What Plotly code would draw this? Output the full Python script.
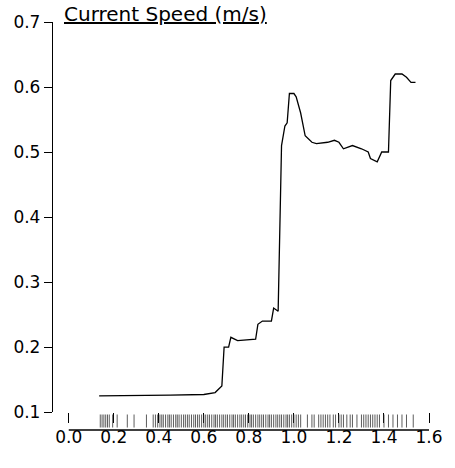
import plotly.graph_objects as go

pd_x = [0.135, 0.3, 0.45, 0.6, 0.65, 0.68, 0.69, 0.71, 0.72, 0.75, 0.83, 0.84, 0.86, 0.9, 0.91, 0.93, 0.945,
        0.96, 0.97, 0.98, 1.0, 1.01, 1.03, 1.05, 1.08, 1.1, 1.15, 1.18, 1.2, 1.22, 1.26, 1.3, 1.33, 1.34,
        1.37, 1.39, 1.42, 1.43, 1.45, 1.48, 1.5, 1.52, 1.54]
pd_y = [0.125, 0.125, 0.126, 0.127, 0.13, 0.14, 0.2, 0.2, 0.215, 0.21, 0.212, 0.235, 0.24, 0.24, 0.26, 0.255, 0.51,
        0.54, 0.545, 0.59, 0.59, 0.585, 0.56, 0.525, 0.515, 0.513, 0.515, 0.518, 0.515, 0.505, 0.51, 0.505, 0.5, 0.49,
        0.485, 0.5, 0.5, 0.61, 0.62, 0.62, 0.615, 0.607, 0.607]
rug_x = [0.14, 0.148, 0.156, 0.164, 0.172, 0.18, 0.195, 0.215, 0.26, 0.29, 0.345, 0.375, 0.385,
         0.395, 0.405, 0.413, 0.42, 0.43, 0.44, 0.447, 0.455, 0.465, 0.475, 0.482, 0.49, 0.5, 0.51,
         0.518, 0.527, 0.535, 0.545, 0.555, 0.563, 0.572, 0.58, 0.59, 0.6, 0.608, 0.617, 0.625, 0.635,
         0.645, 0.652, 0.66, 0.67, 0.68, 0.688, 0.697, 0.705, 0.715, 0.725, 0.732, 0.74, 0.75, 0.76,
         0.768, 0.777, 0.785, 0.795, 0.805, 0.812, 0.82, 0.83, 0.84, 0.848, 0.857, 0.865, 0.875,
         0.885, 0.892, 0.9, 0.91, 0.92, 0.928, 0.937, 0.945, 0.955, 0.965, 0.972, 0.98, 0.99, 1.0,
         1.01, 1.02, 1.03, 1.06, 1.08, 1.09, 1.11, 1.12, 1.13, 1.14, 1.15, 1.16, 1.175, 1.185, 1.2,
         1.21, 1.22, 1.235, 1.25, 1.26, 1.28, 1.3, 1.31, 1.32, 1.33, 1.34, 1.35, 1.36, 1.37, 1.38,
         1.4, 1.42, 1.44, 1.46, 1.48, 1.5, 1.53]
xticks = [0.0, 0.2, 0.4, 0.6, 0.8, 1.0, 1.2, 1.4, 1.6]
yticks = [0.1, 0.2, 0.3, 0.4, 0.5, 0.6, 0.7]

fig = go.Figure()
fig.add_trace(go.Scatter(x=pd_x, y=pd_y, mode="lines", line=dict(color="black", width=1.3), hoverinfo="skip"))
fig.add_trace(go.Scatter(x=rug_x, y=[0.5] * len(rug_x), yaxis="y2", mode="markers", hoverinfo="skip",
                         marker=dict(symbol="line-ns", size=13, line=dict(color="#333", width=0.8))))
fig.add_shape(type="line", xref="x", yref="paper", x0=0, x1=1.6, y0=0, y1=0, line=dict(color="black", width=1.3))
fig.add_annotation(text="<u>Current Speed (m/s)</u>", xref="paper", yref="paper", x=0.025, y=1.0,
                   xanchor="left", yanchor="bottom", showarrow=False, font=dict(size=20, color="black"), yshift=-6)
fig.update_layout(
    width=455, height=468, margin=dict(l=53, r=15, t=19, b=38), showlegend=False,
    plot_bgcolor="white", paper_bgcolor="white",
    font=dict(family="DejaVu Sans", size=17, color="black"),
    xaxis=dict(range=[-0.07, 1.6], tickvals=xticks, ticktext=[f"{v:.1f}" for v in xticks],
               ticks="outside", ticklen=10, tickcolor="black", showline=False, showgrid=False, zeroline=False),
    yaxis=dict(domain=[0.044, 1], range=[0.1, 0.7], tickvals=yticks, ticktext=[f"{v:.1f}" for v in yticks],
               ticks="outside", ticklen=8, tickcolor="black", showline=True, linecolor="black", linewidth=1.3,
               showgrid=False, zeroline=False),
    yaxis2=dict(domain=[0.006, 0.038], range=[0, 1], visible=False),
)
fig.write_html("out.html", config={"displayModeBar": False},
               post_script="document.body.style.margin='0';document.body.style.overflow='hidden';")
